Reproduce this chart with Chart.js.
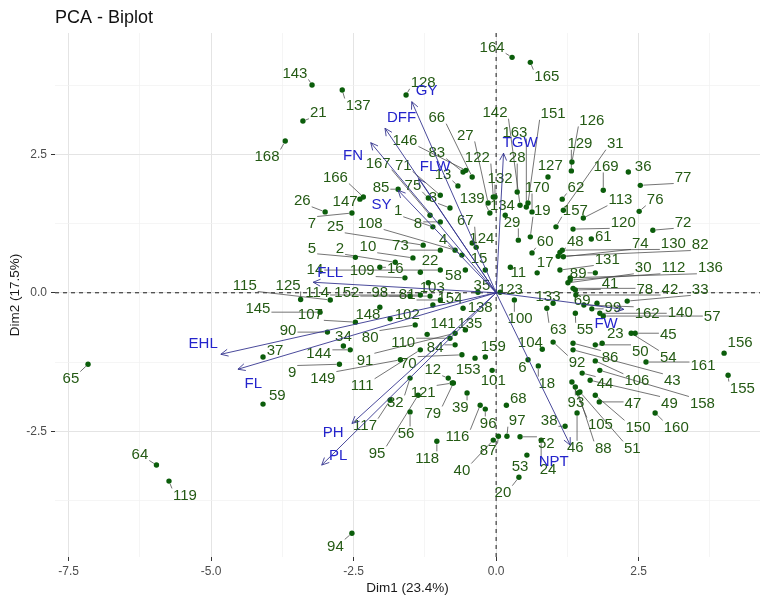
<!DOCTYPE html>
<html>
<head>
<meta charset="utf-8">
<title>PCA - Biplot</title>
<script src="https://cdn.jsdelivr.net/npm/chart.js@4.4.1/dist/chart.umd.min.js"></script>
<style>
html, body { margin: 0; padding: 0; background: #ffffff; }
#wrap { width: 767px; height: 599px; }
</style>
</head>
<body>
<div id="wrap"><canvas id="biplot" width="767" height="599"></canvas></div>
<script>
// individuals (genotypes 1..170): coordinates on Dim1 / Dim2
var ids = [];
for (var k = 1; k <= 170; k++) ids.push(String(k));

var dim1 = [-1.11,-1.77,-0.81,-0.60,-2.47,0.56,-2.53,-0.98,-2.75,-1.46,
  0.25,-0.84,-0.67,-0.98,-0.19,-2.04,0.72,0.74,0.60,0.40,
  -3.39,-1.33,1.86,0.79,-1.28,-3.00,-0.14,0.37,0.39,1.26,
  1.18,-1.51,2.30,-2.68,-0.32,2.32,-4.09,1.21,-0.51,-0.05,
  1.39,1.40,1.35,1.51,2.44,1.42,1.81,1.12,1.65,1.74,
  1.47,0.42,0.54,2.37,1.39,-1.51,1.88,-0.54,-4.09,0.63,
  1.67,1.16,0.89,-5.96,-7.16,-0.42,-0.35,0.18,1.77,-0.60,
  -0.98,2.75,-0.98,1.18,-1.19,2.51,2.53,1.35,-0.75,-1.42,
  -0.98,1.09,-0.58,-0.72,-1.72,1.35,0.04,1.44,1.74,-2.96,
  -0.72,1.00,1.39,-2.53,-1.37,-0.19,0.19,-1.16,1.68,0.32,
  -0.07,-1.86,-1.19,0.81,1.33,1.74,-2.47,-0.72,-1.60,-0.81,
  -1.33,1.30,1.53,-1.33,-2.91,-0.28,-1.86,-1.04,-5.74,1.35,
  -0.77,-0.05,0.07,-0.42,-3.43,1.33,0.91,-1.58,1.32,1.16,
  1.12,-0.02,1.00,0.16,-0.54,1.30,-2.70,-0.58,-0.11,1.82,
  -1.21,0.42,-3.23,-2.56,-3.09,-0.53,-2.39,-2.04,-1.68,1.74,
  0.56,-1.51,-0.37,-1.11,4.07,4.00,1.05,1.82,-0.19,2.79,
  2.63,1.54,0.53,0.28,0.60,-2.33,-1.16,-3.70,1.88,0.63];

var dim2 = [1.19,0.55,1.53,0.68,0.64,-1.21,1.44,1.28,-1.29,0.63,
  0.46,-1.54,1.93,0.41,0.41,0.46,0.36,-1.32,1.01,-3.33,
  3.10,0.37,-0.91,-2.66,0.86,1.46,1.62,1.82,0.95,0.18,
  1.49,-1.54,-0.15,-0.96,0.01,2.18,-1.16,-2.41,-1.81,-2.66,
  0.05,-0.04,-1.03,-1.45,-0.73,-2.17,-1.97,0.73,-1.58,-0.94,
  -1.79,-2.60,-2.93,-0.73,-0.37,-2.15,-0.42,0.41,-2.01,0.72,
  0.97,1.69,-0.28,-3.11,-1.29,2.09,0.82,-2.03,-0.19,-1.12,
  1.76,1.13,0.77,0.65,1.71,1.47,1.94,0.08,-1.63,-0.58,
  -0.13,0.66,2.18,-0.94,1.87,-0.91,-2.59,-1.81,0.36,-0.71,
  -0.73,-0.89,-1.70,-4.34,-1.85,-2.10,-2.59,-0.06,-0.29,-0.13,
  -1.40,-0.47,0.18,-1.02,-1.61,-1.23,-0.53,0.77,0.27,-0.82,
  -1.03,0.23,1.35,-0.04,-0.13,-2.03,-1.94,-2.68,-3.40,1.15,
  -1.63,1.73,0.01,0.90,-0.12,2.36,2.09,3.57,2.20,0.77,
  0.41,1.73,-0.19,1.40,-0.67,0.27,3.66,-0.28,1.44,-0.37,
  -0.75,1.58,3.75,-1.03,-0.35,2.21,1.69,-0.26,-1.21,-1.85,
  1.62,-0.06,-1.18,-0.22,-1.49,-1.09,1.19,-1.40,-1.16,-2.17,
  -1.25,-0.22,1.55,4.25,4.16,1.73,1.40,2.74,1.85,1.46];

// where each repelled label sits (same units as the axes)
var labDim1 = [-1.72,-2.74,-1.11,-0.93,-3.23,0.46,-3.23,-1.37,-3.58,-2.25,
  0.39,-1.11,-0.93,-3.18,-0.30,-1.77,0.86,0.89,0.81,0.12,
  -3.12,-1.16,2.09,0.91,-2.82,-3.40,-0.54,0.37,0.28,2.58,
  2.09,-1.77,3.58,-2.68,-0.25,2.58,-3.88,0.93,-0.63,-0.60,
  2.00,3.05,3.09,1.91,3.02,1.39,2.40,1.39,3.04,2.53,
  2.39,0.88,0.42,3.02,1.56,-1.58,3.79,-0.75,-3.84,0.86,
  1.88,1.40,1.09,-6.25,-7.46,-1.04,-0.54,0.39,1.51,-1.54,
  -1.63,3.28,-1.68,2.53,-1.46,2.79,3.28,2.61,-1.11,-2.21,
  -1.56,3.58,-1.04,-1.07,-2.02,2.00,-0.14,1.88,1.44,-3.65,
  -2.30,1.42,1.40,-2.82,-2.09,-0.14,0.37,-2.04,2.05,0.42,
  -0.05,-1.56,-1.12,0.60,1.83,2.47,-3.26,-2.21,-2.35,-1.63,
  -2.35,3.11,2.18,-3.14,-4.41,-0.68,-2.30,-1.21,-5.46,2.23,
  -1.28,-0.33,0.25,-0.25,-3.65,1.68,0.95,-1.28,1.47,3.11,
  1.95,0.07,0.91,0.11,-0.46,3.76,-2.42,-0.28,-0.42,3.23,
  -0.93,-0.02,-3.53,-3.11,-4.18,-1.60,-2.65,-2.25,-3.04,2.49,
  1.00,-2.62,-0.49,-0.81,4.32,4.28,1.39,3.62,-0.05,3.16,
  3.63,2.65,0.33,-0.07,0.89,-2.82,-2.07,-4.02,1.93,0.72];

var labDim2 = [1.49,0.81,1.73,0.97,0.82,-1.34,1.26,1.26,-1.43,0.84,
  0.37,-1.38,2.14,0.43,0.63,0.45,0.55,-1.63,1.49,-3.60,
  3.26,0.59,-0.73,-3.18,1.20,1.67,2.85,2.45,1.28,0.46,
  2.70,-1.97,0.07,-0.78,0.14,2.29,-1.03,-2.30,-2.06,-3.20,
  0.18,0.07,-1.58,-1.63,-0.75,-2.79,-1.99,0.93,-1.99,-1.05,
  -2.80,-2.71,-3.13,-1.16,-0.66,-2.53,-0.42,0.32,-1.85,0.93,
  1.02,1.91,-0.66,-2.91,-1.54,3.17,1.31,-1.90,-0.13,-1.27,
  2.31,1.28,0.86,0.90,1.94,1.69,2.09,0.07,-2.17,-0.80,
  -0.02,0.88,2.54,-0.98,1.91,-1.16,-2.84,-2.80,0.36,-0.67,
  -1.21,-1.25,-1.97,-4.57,-2.89,-2.35,-2.30,0.01,-0.26,-0.46,
  -1.58,-0.38,0.10,-0.89,-2.37,-1.58,-0.38,1.26,0.41,-0.89,
  -1.67,0.46,1.69,0.01,0.14,-2.59,-2.39,-2.98,-3.65,1.28,
  -1.79,2.45,0.07,0.99,0.14,3.12,2.31,3.80,2.70,0.90,
  0.61,2.07,-0.06,1.58,-0.55,0.46,3.39,-0.26,1.71,-0.35,
  -0.55,3.26,3.97,-1.09,-0.28,2.76,1.66,-0.38,-1.54,-2.42,
  3.24,0.01,-1.38,-0.10,-1.72,-0.89,1.49,-1.99,-0.96,-2.42,
  -1.31,-0.37,2.90,4.44,3.91,2.09,2.34,2.47,2.29,1.91];

// variables (arrow tips and their labels)
var varNames = ['GY','DFF','FN','FLW','SY','TGW','FLL','EHL','FL','PH','PL','NPT','FW'];
var varDim1 = [-1.48,-1.95,-2.20,-1.36,-1.72,0.13,-3.21,-4.83,-4.53,-2.53,-3.06,1.30,2.24];
var varDim2 = [3.45,2.97,2.71,2.06,1.85,2.52,0.19,-1.11,-1.38,-2.36,-3.11,-2.75,-0.30];
var varLabDim1 = [-1.22,-1.66,-2.51,-1.07,-2.01,0.42,-2.91,-5.14,-4.26,-2.86,-2.77,1.01,1.93];
var varLabDim2 = [3.66,3.18,2.49,2.30,1.61,2.73,0.38,-0.91,-1.62,-2.51,-2.93,-3.03,-0.55];

// axes
var xMajor = [-7.5, -5.0, -2.5, 0.0, 2.5];
var xMinor = [-6.25, -3.75, -1.25, 1.25, 3.75];
var yMajor = [-2.5, 0.0, 2.5];
var yMinor = [-3.75, -1.25, 1.25, 3.75];

var FONT = '"Liberation Sans", Arial, Helvetica, sans-serif';
var indColor = '#0b5d0b';
var indText = '#245a14';
var varLine = '#363690';
var varText = '#2424cc';

function isMajor(list, v) {
    for (var i = 0; i < list.length; i++) {
        if (Math.abs(list[i] - v) < 1e-6) return true;
    }
    return false;
}

function setTicks(major, minor) {
    return function (scale) {
        var all = major.concat(minor).sort(function (a, b) { return a - b; });
        scale.ticks = all.map(function (v) { return { value: v }; });
    };
}

function drawArrow(ctx, x0, y0, x1, y1) {
    var ang = Math.atan2(y1 - y0, x1 - x0);
    var len = 8, spread = Math.PI / 7;
    ctx.beginPath();
    ctx.moveTo(x0, y0);
    ctx.lineTo(x1, y1);
    ctx.moveTo(x1 - len * Math.cos(ang - spread), y1 - len * Math.sin(ang - spread));
    ctx.lineTo(x1, y1);
    ctx.lineTo(x1 - len * Math.cos(ang + spread), y1 - len * Math.sin(ang + spread));
    ctx.stroke();
}

var biplotLayer = {
    id: 'biplotLayer',
    beforeDatasetsDraw: function (chart) {
        var ctx = chart.ctx, xs = chart.scales.x, ys = chart.scales.y, a = chart.chartArea;
        ctx.save();
        // dashed reference lines through the origin
        var px0 = xs.getPixelForValue(0), py0 = ys.getPixelForValue(0);
        ctx.strokeStyle = '#1a1a1a';
        ctx.lineWidth = 1;
        ctx.setLineDash([4, 4]);
        ctx.beginPath();
        ctx.moveTo(px0, a.top); ctx.lineTo(px0, a.bottom);
        ctx.moveTo(a.left, py0); ctx.lineTo(a.right, py0);
        ctx.stroke();
        ctx.setLineDash([]);

        // label segments (repel style)
        ctx.font = '15px ' + FONT;
        ctx.strokeStyle = '#474747';
        ctx.lineWidth = 0.75;
        for (var i = 0; i < ids.length; i++) {
            var px = xs.getPixelForValue(dim1[i]), py = ys.getPixelForValue(dim2[i]);
            var lx = xs.getPixelForValue(labDim1[i]), ly = ys.getPixelForValue(labDim2[i]);
            var hw = ctx.measureText(ids[i]).width / 2 + 1, hh = 6.5;
            var qx = Math.max(lx - hw, Math.min(px, lx + hw));
            var qy = Math.max(ly - hh, Math.min(py, ly + hh));
            var d = Math.hypot(qx - px, qy - py);
            if (d < 6) continue;
            var sx = px + (qx - px) * (3 / d), sy = py + (qy - py) * (3 / d);
            ctx.beginPath();
            ctx.moveTo(sx, sy);
            ctx.lineTo(qx, qy);
            ctx.stroke();
        }
        ctx.restore();
    },
    afterDatasetsDraw: function (chart) {
        var ctx = chart.ctx, xs = chart.scales.x, ys = chart.scales.y, a = chart.chartArea;
        ctx.save();
        // individual labels
        ctx.font = '15px ' + FONT;
        ctx.fillStyle = indText;
        ctx.textAlign = 'center';
        ctx.textBaseline = 'middle';
        for (var i = 0; i < ids.length; i++) {
            ctx.fillText(ids[i], xs.getPixelForValue(labDim1[i]), ys.getPixelForValue(labDim2[i]) + 1);
        }

        // variable arrows
        var ox = xs.getPixelForValue(0), oy = ys.getPixelForValue(0);
        ctx.strokeStyle = varLine;
        ctx.lineWidth = 0.9;
        for (var j = 0; j < varNames.length; j++) {
            drawArrow(ctx, ox, oy, xs.getPixelForValue(varDim1[j]), ys.getPixelForValue(varDim2[j]));
        }
        ctx.fillStyle = varText;
        for (var m = 0; m < varNames.length; m++) {
            ctx.fillText(varNames[m], xs.getPixelForValue(varLabDim1[m]), ys.getPixelForValue(varLabDim2[m]) + 1);
        }

        // title
        ctx.font = '18px ' + FONT;
        ctx.fillStyle = '#111111';
        ctx.textAlign = 'left';
        ctx.fillText('PCA - Biplot', a.left, 18);
        ctx.restore();
    }
};

new Chart(document.getElementById('biplot'), {
    type: 'scatter',
    data: {
        datasets: [{
            label: 'individuals',
            data: ids.map(function (id, i) { return { x: dim1[i], y: dim2[i] }; }),
            backgroundColor: indColor,
            borderColor: indColor,
            pointRadius: 2.7,
            pointBorderWidth: 0
        }]
    },
    options: {
        responsive: false,
        animation: false,
        layout: { padding: { left: 0, right: 7, top: 33, bottom: 0 } },
        plugins: {
            legend: { display: false },
            tooltip: { enabled: false },
            title: { display: false }
        },
        scales: {
            x: {
                type: 'linear',
                min: -7.74,
                max: 4.63,
                afterBuildTicks: setTicks(xMajor, xMinor),
                afterFit: function (s) { s.height = 42; },
                border: { display: false },
                grid: {
                    color: function (c) { return isMajor(xMajor, c.tick.value) ? '#e4e4e4' : '#f0f0f0'; },
                    lineWidth: function (c) { return isMajor(xMajor, c.tick.value) ? 1 : 0.7; },
                    tickColor: function (c) { return isMajor(xMajor, c.tick.value) ? '#333333' : 'rgba(0,0,0,0)'; },
                    tickLength: 4,
                    tickWidth: 1
                },
                ticks: {
                    autoSkip: false,
                    maxRotation: 0,
                    padding: 3,
                    color: '#4d4d4d',
                    font: { family: FONT, size: 12 },
                    callback: function (v) { return isMajor(xMajor, v) ? v.toFixed(1) : ''; }
                },
                title: {
                    display: true,
                    text: 'Dim1 (23.4%)',
                    color: '#1a1a1a',
                    font: { family: FONT, size: 13.5 },
                    padding: { top: 0, bottom: 3 }
                }
            },
            y: {
                type: 'linear',
                min: -4.77,
                max: 4.69,
                afterBuildTicks: setTicks(yMajor, yMinor),
                afterFit: function (s) { s.width = 55; },
                border: { display: false },
                grid: {
                    color: function (c) { return isMajor(yMajor, c.tick.value) ? '#e4e4e4' : '#f0f0f0'; },
                    lineWidth: function (c) { return isMajor(yMajor, c.tick.value) ? 1 : 0.7; },
                    tickColor: function (c) { return isMajor(yMajor, c.tick.value) ? '#333333' : 'rgba(0,0,0,0)'; },
                    tickLength: 4,
                    tickWidth: 1
                },
                ticks: {
                    autoSkip: false,
                    padding: 4,
                    color: '#4d4d4d',
                    font: { family: FONT, size: 12 },
                    callback: function (v) { return isMajor(yMajor, v) ? v.toFixed(1) : ''; }
                },
                title: {
                    display: true,
                    text: 'Dim2 (17.5%)',
                    color: '#1a1a1a',
                    font: { family: FONT, size: 13.5 },
                    padding: { top: 7, bottom: 0 }
                }
            }
        }
    },
    plugins: [biplotLayer]
});
</script>
</body>
</html>
